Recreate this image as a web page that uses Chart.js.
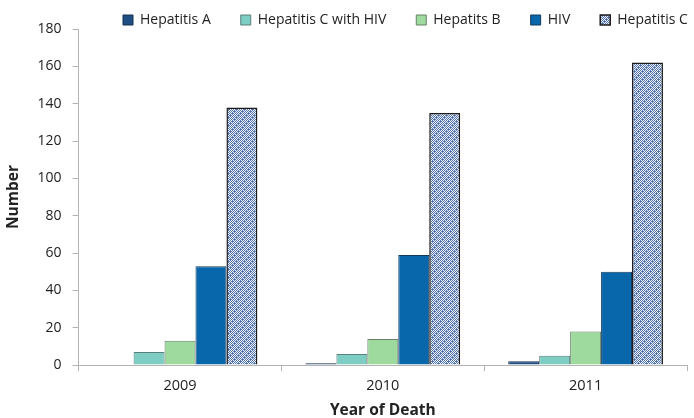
<!DOCTYPE html>
<html>
<head>
<meta charset="utf-8">
<script src="https://cdn.jsdelivr.net/npm/chart.js@4.4.0/dist/chart.umd.min.js"></script>
<style>
  html, body { margin: 0; padding: 0; background: #fff; }
  #wrap { width: 694px; height: 418px; }
</style>
</head>
<body>
<div id="wrap"><canvas id="deaths-chart" width="694" height="418"></canvas></div>
<script>
const years = ["2009", "2010", "2011"];
const hepA = [0, 1, 2];
const hepCwithHIV = [7, 6, 5];
const hepB = [13, 14, 18];
const hiv = [53, 59, 50];
const hepC = [138, 135, 162];
const yTicks = [0, 20, 40, 60, 80, 100, 120, 140, 160, 180];

// checkered + diagonal stripe fill, like the Excel pattern
function makeHatch() {
  const n = 8;
  const c = document.createElement("canvas");
  c.width = n;
  c.height = n;
  const ctx = c.getContext("2d");
  const img = ctx.createImageData(n, n);
  for (let y = 0; y < n; y++) {
    for (let x = 0; x < n; x++) {
      const band = (x + y) % n < 3;
      const blue = band ? !(x % 2 === 1 && y % 2 === 0) : (x + y) % 2 === 0;
      const i = (y * n + x) * 4;
      const col = blue ? [84, 116, 174] : [240, 243, 250];
      img.data[i] = col[0];
      img.data[i + 1] = col[1];
      img.data[i + 2] = col[2];
      img.data[i + 3] = 255;
    }
  }
  ctx.putImageData(img, 0, 0);
  return ctx.createPattern(c, "repeat");
}
const hatch = makeHatch();

const font = "'Open Sans', 'DejaVu Sans', sans-serif";
const legendPad = 30;

// legend sits partly over the plot top and runs to the right edge, as in the original
const legendPlacer = {
  id: "legendPlacer",
  beforeLayout(chart) {
    const lg = chart.legend;
    if (lg && !lg._patched) {
      const fit = lg.fit;
      lg.fit = function () {
        this.maxWidth = 3000;
        fit.call(this);
        this.width = chart.width;
        this.height = 29;
      };
      lg._patched = true;
    }
  },
  afterLayout(chart) {
    const lg = chart.legend;
    lg.left = 123 - legendPad;
    lg.right = 3000;
    lg.top = 20 - legendPad - 7;
  },
};

const chartData = {
  labels: years,
  datasets: [
    { label: "Hepatitis A", data: hepA, backgroundColor: "#1f4e82", borderColor: "#14304f", borderWidth: 1 },
    { label: "Hepatitis C with HIV", data: hepCwithHIV, backgroundColor: "#7ecdc3", borderColor: "#5b7f7a", borderWidth: 1 },
    { label: "Hepatits B", data: hepB, backgroundColor: "#9ed99e", borderColor: "#66806a", borderWidth: 1 },
    { label: "HIV", data: hiv, backgroundColor: "#0866aa", borderColor: "#123a5e", borderWidth: 1 },
    { label: "Hepatitis C", data: hepC, backgroundColor: hatch, borderColor: "#1a1a1a", borderWidth: 1.5 },
  ],
};

const config = {
  type: "bar",
  data: chartData,
  options: {
    responsive: false,
    animation: false,
    layout: { padding: { left: 4, right: 7, top: 0, bottom: 0 } },
    datasets: {
      bar: { categoryPercentage: 0.763, barPercentage: 1.0 },
    },
    scales: {
      x: {
        grid: { display: true, offset: true, drawOnChartArea: false, color: "#b3b3b3", tickLength: 6 },
        border: { color: "#b3b3b3" },
        ticks: { color: "#222", font: { family: font, size: 14.5 }, padding: 6 },
        title: { display: true, text: "Year of Death", color: "#222", font: { family: font, size: 15.5, weight: "bold", lineHeight: 1 }, padding: { top: 2, bottom: 0 } },
      },
      y: {
        min: 0,
        max: 180,
        afterBuildTicks: (axis) => { axis.ticks = yTicks.map((v) => ({ value: v })); },
        grid: { display: true, drawOnChartArea: false, color: "#b3b3b3", tickLength: 6 },
        border: { color: "#b3b3b3" },
        ticks: { color: "#222", font: { family: font, size: 14 }, padding: 11 },
        title: { display: true, text: "Number", color: "#222", font: { family: font, size: 15.5, weight: "bold" }, padding: { top: 0, bottom: 4 } },
      },
    },
    plugins: {
      legend: {
        position: "top",
        align: "start",
        labels: {
          boxWidth: 10,
          boxHeight: 10,
          padding: legendPad,
          color: "#222",
          font: { family: font, size: 14 },
        },
      },
      tooltip: { enabled: false },
    },
  },
  plugins: [legendPlacer],
};

new Chart("deaths-chart", config);
</script>
</body>
</html>
